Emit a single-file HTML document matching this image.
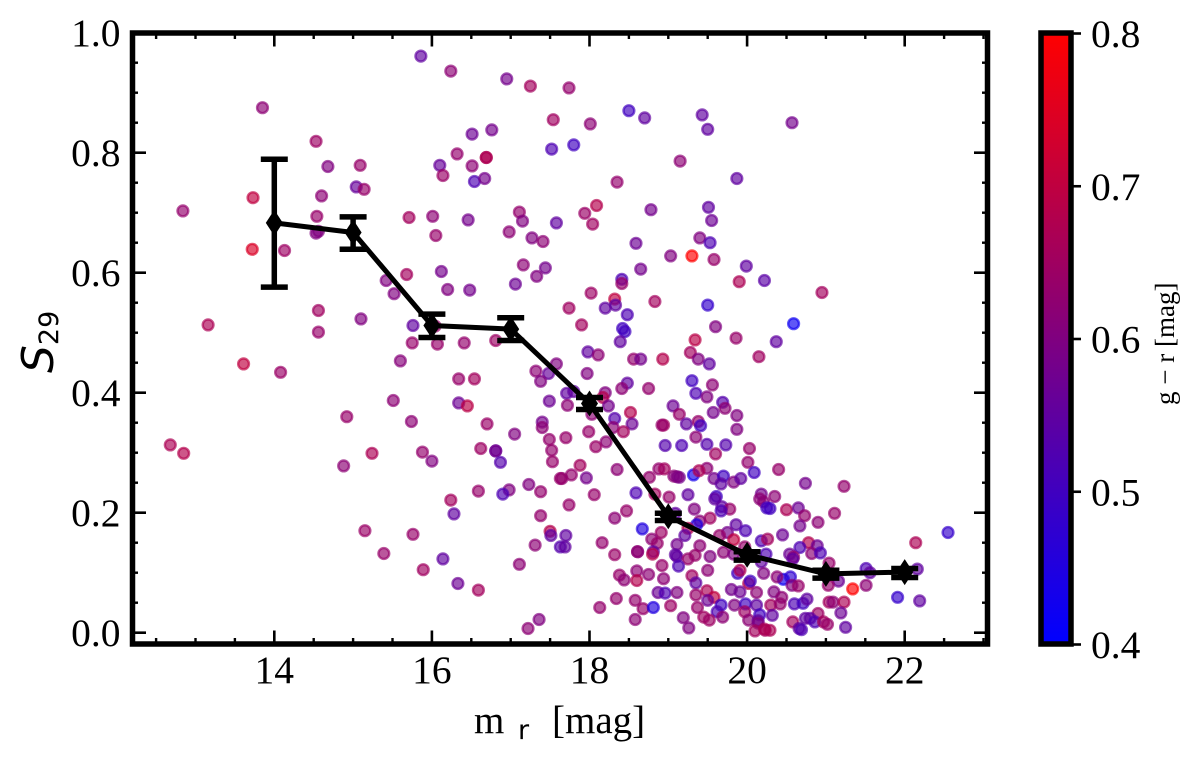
<!DOCTYPE html>
<html lang="en">
<head>
<meta charset="utf-8">
<title>S29 vs r magnitude</title>
<style>
html,body{margin:0;padding:0;background:#fff;}
#chart{display:block;width:1200px;height:762px;}
text{fill:#000;font-family:"Liberation Serif",serif;}
</style>
</head>
<body>
<svg id="chart" xmlns="http://www.w3.org/2000/svg" width="1200" height="762" viewBox="0 0 1200 762">
  <defs>
    <linearGradient id="cbGrad" x1="0" y1="1" x2="0" y2="0">
      <stop offset="0" stop-color="#0000ff"/>
      <stop offset="1" stop-color="#ff0000"/>
    </linearGradient>
    <clipPath id="plotClip"><rect x="132" y="33" width="856" height="611"/></clipPath>
  </defs>
  <rect x="0" y="0" width="1200" height="762" fill="#fff"/>
  <g id="points" clip-path="url(#plotClip)"></g>
  <g id="mean"></g>
  <g id="ticks"></g>
  <rect x="132.5" y="33" width="855" height="611" fill="none" stroke="#000" stroke-width="5.5"/>
  <g id="labels"></g>
  <text y="733" font-size="39"><tspan x="474">m</tspan><tspan x="518" y="739" font-size="27" style="font-family:'DejaVu Sans',sans-serif">r</tspan><tspan x="552" y="733">[mag]</tspan></text>
  <text transform="translate(53,373) rotate(-90)" font-size="44" style="font-family:'DejaVu Sans',sans-serif;font-style:italic">S<tspan dy="5" font-size="27" font-style="normal">29</tspan></text>
  <rect x="1041" y="33" width="30" height="611" fill="url(#cbGrad)"/>
  <g id="cbticks"></g>
  <rect x="1041" y="33" width="30" height="611" fill="none" stroke="#000" stroke-width="5.5"/>
  <text transform="translate(1174,405) rotate(-90)" font-size="27">g − r [mag]</text>
</svg>
<script>
const magnitudes = [
15.86,16.24,16.95,17.25,17.54,17.52,13.85,14.53,14.68,15.09,
15.04,15.14,14.60,13.73,12.84,14.54,14.56,14.53,13.72,14.13,
16.51,16.76,16.32,16.69,16.69,16.10,16.14,16.51,16.54,16.67,
15.71,16.01,16.46,17.11,17.15,16.98,17.27,17.41,17.58,16.05,
15.68,16.12,15.42,15.52,16.20,16.48,17.16,17.44,17.33,17.06,
14.56,14.56,15.10,13.16,15.76,16.04,15.75,16.07,16.41,16.81,
15.60,13.61,14.08,16.34,16.54,17.32,17.58,17.48,17.38,15.51,
16.34,16.45,17.49,14.92,15.74,16.70,17.40,17.40,17.05,17.49,
17.52,17.53,16.62,16.81,16.81,16.87,12.68,12.85,15.24,15.88,
16.00,14.88,17.63,17.23,17.38,16.59,16.98,16.90,16.24,16.28,
17.38,17.50,17.51,17.31,17.63,17.11,15.15,15.76,15.39,16.14,
15.89,16.33,16.59,17.36,17.22,
17.74,18.50,18.70,19.43,19.50,20.57,18.01,17.80,19.15,19.87,
18.35,18.09,17.94,18.04,18.78,19.51,19.55,18.59,19.40,19.53,
19.03,19.30,19.58,19.99,18.65,20.22,19.90,20.95,18.41,18.41,
18.02,18.32,18.33,18.20,17.74,18.48,18.83,17.90,19.50,20.59,
19.60,18.42,18.45,18.39,19.34,19.86,20.37,
17.98,18.11,18.56,18.65,18.93,19.28,19.38,19.52,20.15,17.97,
19.30,19.56,18.48,18.41,18.75,19.35,19.49,17.71,17.80,18.20,
18.17,17.72,18.24,19.06,19.69,19.72,19.14,18.52,19.57,19.87,
18.03,18.32,19.23,19.38,19.41,18.94,18.92,18.54,18.30,18.43,
19.87,17.99,17.70,19.35,18.21,18.08,18.96,19.17,19.49,19.73,
20.03,19.60,20.01,17.88,17.77,17.65,17.96,18.35,18.88,18.95,
19.49,20.09,20.40,19.32,19.39,18.76,19.07,19.14,19.11,19.58,
19.70,19.67,19.83,19.92,18.59,18.83,19.01,19.25,18.06,19.61,
20.18,
17.74,19.59,19.68,19.78,19.67,19.33,20.16,20.21,20.25,18.47,
18.32,19.09,19.53,19.40,19.36,19.25,18.67,18.91,19.21,19.86,
19.98,19.75,19.65,19.83,20.18,20.26,19.97,17.70,17.69,18.16,
18.79,18.86,19.11,19.40,18.32,18.61,18.61,18.81,18.80,19.09,
19.11,19.34,19.25,19.53,19.70,19.83,20.24,20.18,19.13,18.92,
19.50,19.88,19.91,20.02,20.04,20.21,18.38,18.44,18.60,18.60,
18.75,18.94,19.30,19.35,18.87,18.96,19.11,19.35,19.49,19.58,
19.50,19.80,19.91,20.12,18.34,18.58,18.13,18.68,18.81,19.03,
19.37,19.67,19.62,19.84,19.98,20.12,20.30,20.16,19.97,18.58,
19.19,19.45,19.52,19.69,20.02,20.14,20.14,19.26,20.10,20.23,
20.22,
20.74,21.23,20.35,20.50,20.65,20.73,20.90,21.11,20.67,20.29,
20.45,22.55,22.14,20.78,20.67,20.89,20.54,20.59,20.58,20.82,
20.93,21.04,21.51,21.56,22.16,21.16,21.03,21.34,20.46,20.55,
20.38,20.57,20.65,20.34,21.51,21.91,22.19,20.44,20.42,20.60,
20.71,20.76,21.04,21.09,21.23,21.19,20.90,20.74,20.80,20.86,
20.97,21.02,20.58,20.66,20.69,21.25,20.32,20.29
];
const s29Values = [
.961,.936,.923,.911,.855,.806,.875,.819,.777,.779,
.743,.739,.728,.725,.703,.694,.669,.666,.639,.637,
.831,.838,.798,.792,.792,.779,.762,.778,.752,.757,
.692,.694,.688,.701,.686,.668,.658,.652,.683,.662,
.597,.602,.587,.565,.572,.571,.613,.608,.594,.581,
.537,.501,.523,.513,.512,.511,.483,.481,.483,.487,
.453,.448,.434,.423,.423,.436,.448,.432,.419,.387,
.383,.378,.386,.360,.352,.348,.351,.342,.331,.322,
.304,.285,.307,.303,.303,.284,.313,.299,.299,.301,
.286,.278,.257,.247,.235,.236,.238,.231,.221,.198,
.195,.169,.162,.146,.143,.114,.170,.164,.132,.123,
.105,.082,.071,.022,.007,
.908,.870,.858,.863,.839,.850,.848,.813,.786,.757,
.751,.712,.699,.681,.705,.709,.687,.649,.658,.650,
.628,.628,.622,.611,.606,.587,.585,.567,.589,.582,
.566,.556,.546,.541,.541,.530,.552,.513,.546,.515,
.510,.507,.502,.485,.488,.491,.485,
.468,.463,.456,.456,.456,.467,.456,.448,.460,.432,
.420,.413,.416,.407,.407,.399,.393,.399,.402,.400,
.392,.379,.378,.378,.384,.374,.364,.367,.367,.362,
.364,.357,.348,.352,.345,.346,.346,.348,.342,.335,
.339,.335,.325,.326,.318,.310,.312,.312,.314,.313,
.307,.298,.284,.279,.263,.257,.258,.272,.273,.273,
.274,.267,.272,.263,.270,.259,.261,.259,.260,.257,
.261,.248,.251,.257,.233,.231,.226,.230,.230,.227,
.231,
.213,.223,.210,.206,.203,.206,.223,.218,.208,.203,
.191,.199,.191,.186,.180,.174,.173,.167,.162,.180,
.170,.167,.162,.155,.153,.156,.143,.162,.143,.150,
.156,.149,.147,.145,.130,.135,.135,.135,.131,.130,
.127,.129,.123,.127,.134,.131,.131,.118,.111,.112,
.104,.099,.104,.082,.086,.099,.096,.088,.103,.087,
.097,.090,.095,.083,.067,.066,.067,.063,.070,.059,
.054,.072,.068,.067,.057,.054,.042,.040,.042,.045,
.042,.046,.035,.046,.048,.046,.046,.030,.035,.022,
.025,.026,.021,.026,.021,.020,.016,.008,.003,.004,
.006,
.249,.244,.227,.205,.208,.195,.184,.199,.178,.207,
.163,.167,.150,.150,.142,.145,.131,.126,.123,.132,
.133,.116,.107,.100,.106,.086,.079,.073,.089,.093,
.093,.079,.078,.068,.079,.059,.053,.059,.048,.048,
.049,.056,.051,.051,.051,.033,.032,.024,.024,.018,
.018,.014,.018,.007,.005,.009,.029,.004
];
const colorValues = [
.55,.62,.58,.655,.65,.52,.62,.645,.60,.635,
.56,.635,.62,.70,.63,.635,.60,.60,.74,.645,
.57,.58,.63,.68,.67,.56,.64,.62,.52,.58,
.655,.62,.58,.63,.60,.62,.60,.62,.55,.635,
.655,.58,.60,.60,.60,.58,.62,.58,.60,.57,
.65,.635,.60,.67,.55,.635,.635,.635,.63,.645,
.61,.70,.64,.635,.655,.62,.60,.56,.60,.62,
.57,.69,.57,.635,.62,.64,.58,.62,.60,.63,
.63,.635,.645,.55,.58,.53,.67,.68,.67,.63,
.60,.62,.635,.60,.63,.635,.60,.52,.655,.55,
.63,.68,.55,.62,.53,.62,.64,.635,.635,.55,
.65,.57,.655,.60,.62,
.63,.50,.55,.55,.55,.58,.62,.50,.62,.55,
.63,.68,.64,.65,.58,.55,.57,.57,.60,.52,
.60,.80,.635,.55,.58,.54,.67,.655,.52,.635,
.645,.70,.55,.55,.65,.52,.655,.655,.48,.42,
.60,.50,.50,.55,.69,.635,.55,
.55,.62,.63,.58,.68,.655,.60,.55,.65,.60,
.50,.62,.55,.62,.63,.52,.60,.55,.55,.60,
.68,.62,.58,.57,.53,.62,.635,.68,.58,.60,
.62,.53,.55,.635,.50,.655,.635,.57,.62,.655,
.60,.635,.635,.62,.62,.64,.53,.52,.53,.53,
.635,.65,.63,.655,.63,.63,.58,.62,.63,.655,
.62,.50,.635,.43,.67,.63,.62,.58,.60,.58,
.50,.55,.60,.55,.52,.655,.635,.55,.635,.50,
.58,
.635,.55,.55,.635,.52,.60,.62,.62,.50,.635,
.62,.55,.65,.62,.45,.68,.45,.645,.55,.55,
.52,.58,.635,.70,.52,.655,.635,.55,.55,.63,
.62,.635,.58,.62,.64,.62,.62,.55,.68,.55,
.55,.635,.635,.60,.62,.60,.52,.55,.52,.635,
.62,.50,.67,.68,.50,.60,.635,.62,.62,.68,
.62,.62,.65,.55,.57,.52,.60,.635,.67,.70,
.57,.58,.57,.62,.63,.63,.63,.635,.45,.645,
.635,.50,.52,.60,.50,.55,.655,.50,.645,.62,
.60,.65,.645,.62,.62,.55,.60,.60,.655,.655,
.67,
.58,.63,.62,.67,.57,.63,.62,.635,.58,.50,
.57,.48,.67,.68,.52,.57,.57,.635,.55,.62,
.52,.635,.52,.55,.55,.57,.635,.80,.42,.47,
.62,.60,.635,.60,.62,.48,.55,.62,.63,.52,
.50,.55,.655,.62,.67,.57,.645,.55,.55,.52,
.655,.635,.655,.55,.52,.55,.55,.67
];
const meanMag = [14,15,16,17,18,19,20,21,22];
const meanS = [.683,.667,.512,.506,.382,.194,.130,.098,.101];
const errLow = [.576,.639,.492,.487,.372,.187,.121,.091,.092];
const errHigh = [.789,.693,.531,.525,.392,.199,.135,.104,.107];
const xTickLabels = [14,16,18,20,22];
const xMinorTicks = [12.5,13,13.5,14.5,15,15.5,16.5,17,17.5,18.5,19,19.5,20.5,21,21.5,22.5,23];
const yTickLabels = ["0.0","0.2","0.4","0.6","0.8","1.0"];
const yMinorTicks = [.05,.1,.15,.25,.3,.35,.45,.5,.55,.65,.7,.75,.85,.9,.95];
const cbTickLabels = ["0.4","0.5","0.6","0.7","0.8"];

const NS = "http://www.w3.org/2000/svg";
function xScale(v){ return 274.3 + (v - 14) * 78.8; }
function yScale(v){ return 632.7 - v * 600; }
function cbScale(v){ return 644.5 - (v - 0.4) / 0.4 * 611; }
function colorOf(v){
  const t = Math.max(0, Math.min(1, (v - 0.4) / 0.4));
  return "rgb(" + Math.round(255 * t) + ",0," + Math.round(255 * (1 - t)) + ")";
}
function make(tag, attrs, parent){
  const el = document.createElementNS(NS, tag);
  for (const k in attrs) el.setAttribute(k, attrs[k]);
  parent.appendChild(el);
  return el;
}
const pointsG = document.getElementById("points");
magnitudes.forEach(function(m, i){
  const c = colorOf(colorValues[i]);
  const el = make("circle", {cx: xScale(m), cy: yScale(s29Values[i]), r: 5.4, fill: c, stroke: c, "stroke-width": 2.4, "fill-opacity": .66, "stroke-opacity": .66}, pointsG);
  
  
});
const meanG = document.getElementById("mean");
const meanLine = make("polyline", {points: meanMag.map(function(m, i){ return xScale(m) + "," + yScale(meanS[i]); }).join(" "), fill: "none", stroke: "#000", "stroke-width": 5, "stroke-linejoin": "miter"}, meanG);


meanMag.forEach(function(m, i){
  const x = xScale(m), yl = yScale(errLow[i]), yh = yScale(errHigh[i]), y = yScale(meanS[i]);
  const stem = make("line", {x1: x, x2: x, y1: yl, y2: yh, stroke: "#000", "stroke-width": 5.5}, meanG);
  
  
  [yl, yh].forEach(function(cy){
    const cap = make("line", {x1: x - 13.5, x2: x + 13.5, y1: cy, y2: cy, stroke: "#000", "stroke-width": 5.5}, meanG);
    
    
  });
  const d = make("polygon", {points: [x, y - 13, x + 8.5, y, x, y + 13, x - 8.5, y].join(" "), fill: "#000"}, meanG);
  
  
});
const ticksG = document.getElementById("ticks");
function tick(x1, y1, x2, y2, w){
  const t = make("line", {x1: x1, y1: y1, x2: x2, y2: y2, stroke: "#000", "stroke-width": w}, ticksG);
  
  
}
xTickLabels.forEach(function(v){
  const x = xScale(v);
  tick(x, 644, x, 630.5, 2.6);
  tick(x, 33, x, 46.5, 2.6);
});
xMinorTicks.forEach(function(v){
  const x = xScale(v);
  tick(x, 644, x, 638, 2.4);
  tick(x, 33, x, 39, 2.4);
});
yTickLabels.forEach(function(v){
  const y = yScale(parseFloat(v));
  tick(132, y, 146, y, 2.6);
  tick(988, y, 974, y, 2.6);
});
yMinorTicks.forEach(function(v){
  const y = yScale(v);
  tick(132, y, 138, y, 2.4);
  tick(988, y, 982, y, 2.4);
});
const labelsG = document.getElementById("labels");
xTickLabels.forEach(function(v){
  const t = make("text", {x: xScale(v), y: 683, "font-size": 39.5, "text-anchor": "middle"}, labelsG);
  t.textContent = v;
  
  
});
yTickLabels.forEach(function(v){
  const t = make("text", {x: 120.5, y: yScale(parseFloat(v)) + 13.5, "font-size": 39.5, "text-anchor": "end"}, labelsG);
  t.textContent = v;
  
  
});
const cbG = document.getElementById("cbticks");
cbTickLabels.forEach(function(v){
  const y = cbScale(parseFloat(v));
  const l = make("line", {x1: 1071, x2: 1081, y1: y, y2: y, stroke: "#000", "stroke-width": 2.6}, cbG);
  
  
  const t = make("text", {x: 1091, y: y + 13.5, "font-size": 39.5}, cbG);
  t.textContent = v;
  
  
});
</script>
</body>
</html>
